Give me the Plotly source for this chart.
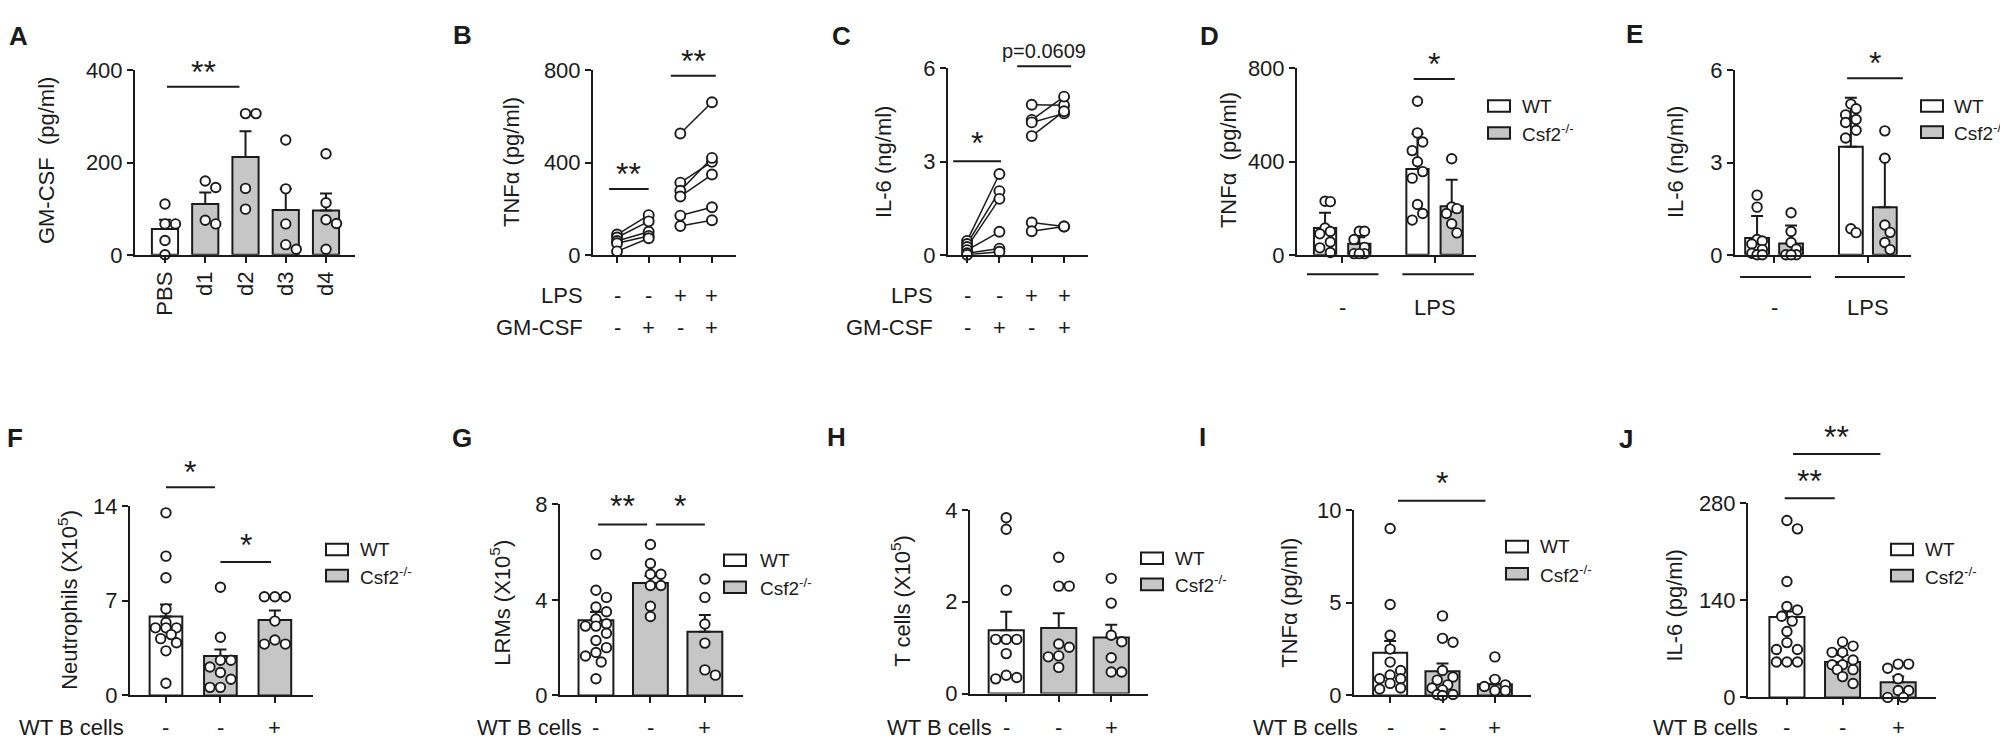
import plotly.graph_objects as go

W, H = 2008, 743
FONT = "Liberation Sans, Arial, Helvetica, sans-serif"
INK = "#1b1b1b"
GRAY = "#c6c6c6"
WHITE = "#ffffff"

# ---------------- data ----------------
# A: GM-CSF after PBS / days
a_labels = ["PBS", "d1", "d2", "d3", "d4"]
a_mean = [56, 110, 212, 97, 96]
a_err_top = [76, 135, 268, 143, 133]
a_points = [[110, 67, 67, 31, 0], [160, 146, 75, 67], [306, 306, 144, 99],
            [249, 143, 67, 22, 12], [219, 113, 76, 68, 12]]

# B: TNFa paired (LPS -/+ , GM-CSF -/+)
row_lps = ["-", "-", "+", "+"]
row_gmcsf = ["-", "+", "-", "+"]
b_ctrl_minus = [88, 75, 60, 50, 15]
b_ctrl_plus = [172, 145, 100, 82, 72]
b_lps_minus = [526, 313, 278, 253, 170, 125]
b_lps_plus = [661, 403, 420, 348, 206, 150]

# C: IL-6 paired
c_ctrl_minus = [0.45, 0.35, 0.25, 0.15, 0.05, 0.0]
c_ctrl_plus = [2.6, 2.05, 1.8, 0.74, 0.2, 0.1]
c_lps_minus = [4.83, 4.34, 4.26, 3.82, 1.04, 0.76]
c_lps_plus = [4.81, 5.09, 4.55, 4.62, 0.91, 0.91]

# D: TNFa WT vs Csf2-/- , - / LPS
d_mean = [115, 48, 368, 208]
d_err_top = [180, 75, 519, 322]
d_points = [[230, 228, 115, 100, 90, 55, 30, 10], [101, 101, 66, 32, 5, 5, 5],
            [659, 523, 484, 447, 399, 357, 329, 216, 177, 149],
            [412, 205, 198, 177, 133, 94]]

# E: IL-6 WT vs Csf2-/- , - / LPS
e_mean = [0.55, 0.37, 3.51, 1.55]
e_err_top = [1.26, 0.95, 5.11, 3.12]
e_points = [[1.94, 1.55, 0.5, 0.45, 0.35, 0.17, 0.05, 0.0, 0.0],
            [1.37, 0.76, 0.4, 0.19, 0.0, 0.0, 0.0],
            [4.9, 4.75, 4.55, 4.4, 4.3, 4.05, 3.8, 0.85, 0.72],
            [4.03, 3.14, 0.97, 0.73, 0.4, 0.17]]

b_cells = ["-", "-", "+"]
# F: Neutrophils
f_mean = [5.84, 2.92, 5.58]
f_err_top = [6.72, 3.39, 6.29]
f_points = [[13.5, 10.3, 8.7, 6.4, 5.4, 5.0, 5.0, 5.0, 4.5, 4.2, 3.9, 3.3, 0.9],
            [8.0, 4.3, 2.6, 2.6, 2.1, 1.7, 1.2, 0.6, 0.6],
            [7.3, 7.3, 7.3, 5.5, 4.1, 3.8, 3.8]]
# G: LRMs
g_mean = [3.15, 4.7, 2.66]
g_err_top = [3.49, 5.0, 3.36]
g_points = [[5.9, 4.4, 4.1, 3.7, 3.5, 3.2, 3.0, 2.9, 2.9, 2.6, 2.3, 2.0, 1.8, 1.65, 1.4, 0.7],
            [6.31, 5.52, 5.07, 5.07, 4.6, 4.6, 3.73, 3.3],
            [4.87, 4.1, 2.99, 2.19, 1.07, 0.85]]
# H: T cells
h_mean = [1.38, 1.43, 1.22]
h_err_top = [1.78, 1.75, 1.5]
h_points = [[3.83, 3.58, 2.25, 1.18, 1.18, 1.18, 0.87, 0.4, 0.35, 0.32],
            [2.97, 2.34, 2.34, 1.08, 1.01, 0.82, 0.8, 0.57],
            [2.51, 1.97, 1.27, 1.13, 0.78, 0.47, 0.47]]
# I: TNFa
i_mean = [2.3, 1.3, 0.61]
i_err_top = [2.94, 1.73, 0.92]
i_points = [[9.0, 4.9, 3.25, 2.5, 1.8, 1.35, 1.1, 0.9, 0.9, 0.65, 0.4, 0.35],
            [4.29, 3.08, 2.87, 1.35, 1.0, 0.83, 0.57, 0.4, 0.3, 0.05, 0.05, 0.0],
            [2.08, 0.87, 0.57, 0.48, 0.26, 0.26]]
# J: IL-6
j_mean = [116, 51, 22]
j_err_top = [124, 61, 30]
j_points = [[255, 243, 167, 131, 126, 117, 110, 95, 79, 69, 69, 51, 51, 51],
            [80, 74, 65, 65, 54, 47, 47, 40, 40, 30, 20],
            [48, 48, 42, 27, 10, 10, 0, 0]]

# ---------------- layout geometry (pixels) ----------------
GEOM = {
    1: dict(box=(127, 347, 52, 243), xr=[-0.745, 4.72], ymax=400, yticks=[0, 200, 400], xpos=[0, 1, 2, 3, 4], barw=0.65),
    2: dict(box=(585, 728, 52, 243), xr=[-0.76, 3.76], ymax=800, yticks=[0, 400, 800], xpos=[0, 1, 2, 3]),
    3: dict(box=(940, 1080, 50, 243), xr=[-0.59, 3.74], ymax=6, yticks=[0, 3, 6], xpos=[0, 1, 2, 3]),
    4: dict(box=(1289, 1468, 50, 243), xr=[-0.82, 4.41], ymax=800, yticks=[0, 400, 800], xpos=[0, 1, 2.7, 3.7], barw=0.65, xticks=[0.5, 3.2]),
    5: dict(box=(1727, 1903, 52, 243), xr=[-0.65, 4.53], ymax=6, yticks=[0, 3, 6], xpos=[0, 1, 2.76, 3.76], barw=0.7, xticks=[0.5, 3.26]),
    6: dict(box=(122, 305, 503, 699), xr=[-0.66, 2.70], ymax=14, yticks=[0, 7, 14], xpos=[0, 1, 2], barw=0.6),
    7: dict(box=(552, 735, 501, 699), xr=[-0.66, 2.70], ymax=8, yticks=[0, 4, 8], xpos=[0, 1, 2], barw=0.64),
    8: dict(box=(962, 1140, 507, 697), xr=[-0.69, 2.70], ymax=4, yticks=[0, 2, 4], xpos=[0, 1, 2], barw=0.67),
    9: dict(box=(1346, 1523, 507, 699), xr=[-0.69, 2.69], ymax=10, yticks=[0, 5, 10], xpos=[0, 1, 2], barw=0.65),
    10: dict(box=(1740, 1928, 500, 701), xr=[-0.70, 2.68], ymax=280, yticks=[0, 140, 280], xpos=[0, 1, 2], barw=0.63),
}

fig = go.Figure()
axes = {}
shapes = []
annots = []


def sfx(n):
    return "" if n == 1 else str(n)


def fx(px):
    return px / W


def fy(py):
    return 1 - py / H


def setup(n):
    g = GEOM[n]
    left, right, top, bottom = g["box"]
    s = sfx(n)
    axes["xaxis" + s] = dict(domain=[fx(left), fx(right)], range=g["xr"], anchor="y" + s,
                             showline=True, linecolor=INK, linewidth=2, ticks="outside",
                             ticklen=6, tickwidth=2, tickcolor=INK,
                             tickmode="array", tickvals=g.get("xticks", g["xpos"]),
                             showticklabels=False, showgrid=False, zeroline=False, fixedrange=True)
    axes["yaxis" + s] = dict(domain=[fy(bottom), fy(top)], range=[0, g["ymax"]], anchor="x" + s,
                             showline=True, linecolor=INK, linewidth=2, ticks="outside",
                             ticklen=6, tickwidth=2, tickcolor=INK,
                             tickmode="array", tickvals=g["yticks"],
                             tickfont=dict(size=22, color=INK, family=FONT),
                             showgrid=False, zeroline=False, fixedrange=True)


def swarm(n, vals, halfwidth_px, d=10.5):
    g = GEOM[n]
    left, right, top, bottom = g["box"]
    ppx = (right - left) / (g["xr"][1] - g["xr"][0])
    ppv = (bottom - top) / g["ymax"]
    step = d / 2.0
    cands = [0.0]
    k = 1
    while k * step <= halfwidth_px + 1e-9:
        cands += [k * step, -k * step]
        k += 1
    order = sorted(range(len(vals)), key=lambda i: -vals[i])
    placed = []
    offs = [0.0] * len(vals)
    for i in order:
        y = vals[i] * ppv
        best, bestd = 0.0, -1
        for c in cands:
            md = min([((c - px) ** 2 + (y - py) ** 2) ** 0.5 for px, py in placed], default=1e9)
            if md >= d:
                best = c
                break
            if md > bestd:
                bestd, best = md, c
        placed.append((best, y))
        offs[i] = best / ppx
    return offs


def bar_panel(n, means, tops, pts, colors):
    g = GEOM[n]
    s = sfx(n)
    left, right, top, bottom = g["box"]
    ppx = (right - left) / (g["xr"][1] - g["xr"][0])
    fig.add_trace(go.Bar(x=g["xpos"], y=means, width=g["barw"],
                         marker=dict(color=colors, line=dict(color=INK, width=2)),
                         error_y=dict(type="data", symmetric=False,
                                      array=[t - m for t, m in zip(tops, means)],
                                      arrayminus=[0] * len(means), color=INK, thickness=2, width=6),
                         xaxis="x" + s, yaxis="y" + s, showlegend=False, hoverinfo="skip"))
    hw = g["barw"] * ppx / 2 - 2
    xs, ys = [], []
    for pos, vals in zip(g["xpos"], pts):
        offs = swarm(n, vals, hw)
        xs += [pos + o for o in offs]
        ys += vals
    fig.add_trace(go.Scatter(x=xs, y=ys, mode="markers", cliponaxis=False,
                             marker=dict(symbol="circle", size=9.5, color=WHITE, line=dict(color=INK, width=1.9)),
                             xaxis="x" + s, yaxis="y" + s, showlegend=False, hoverinfo="skip"))


def paired(n, groups):
    g = GEOM[n]
    s = sfx(n)
    xs, ys = [], []
    for (i0, i1, before, after) in groups:
        for a, b in zip(before, after):
            xs += [g["xpos"][i0], g["xpos"][i1], None]
            ys += [a, b, None]
    fig.add_trace(go.Scatter(x=xs, y=ys, mode="lines+markers", cliponaxis=False,
                             line=dict(color=INK, width=1.5),
                             marker=dict(symbol="circle", size=10, color=WHITE, line=dict(color=INK, width=1.9)),
                             xaxis="x" + s, yaxis="y" + s, showlegend=False, hoverinfo="skip"))


def bracket(n, x0, x1, yv, text, size=32, shift=15):
    g = GEOM[n]
    s = sfx(n)
    xr = g["xr"]
    xd0 = (x0 - xr[0]) / (xr[1] - xr[0])
    xd1 = (x1 - xr[0]) / (xr[1] - xr[0])
    yd = yv / g["ymax"]
    shapes.append(dict(type="line", xref="x" + s + " domain", yref="y" + s + " domain",
                       x0=xd0, x1=xd1, y0=yd, y1=yd, line=dict(color=INK, width=2)))
    annots.append(dict(x=(xd0 + xd1) / 2, y=yd, xref="x" + s + " domain", yref="y" + s + " domain", text=text,
                       showarrow=False, xanchor="center", yanchor="middle", yshift=shift,
                       font=dict(size=size, color=INK, family=FONT)))


def text(xp, yp, t, size=22, xanchor="center", angle=0, bold=False):
    annots.append(dict(x=fx(xp), y=fy(yp), xref="paper", yref="paper", text=("<b>%s</b>" % t) if bold else t,
                       showarrow=False, xanchor=xanchor, yanchor="middle", textangle=angle,
                       font=dict(size=size, color=INK, family=FONT)))


def data_text(n, xv, yp, t, size=22):
    annots.append(dict(x=xv, y=fy(yp), xref="x" + sfx(n), yref="paper", text=t, showarrow=False,
                       xanchor="center", yanchor="middle", font=dict(size=size, color=INK, family=FONT)))


def legend(box_x0, yw, yk, tx):
    for yy, col in ((yw, WHITE), (yk, GRAY)):
        shapes.append(dict(type="rect", xref="paper", yref="paper", x0=fx(box_x0), x1=fx(box_x0 + 22),
                           y0=fy(yy + 6), y1=fy(yy - 6), fillcolor=col, line=dict(color=INK, width=2)))
    text(tx, yw, "WT", size=19, xanchor="left")
    text(tx, yk, "Csf2<sup>-/-</sup>", size=19, xanchor="left")


for n in GEOM:
    setup(n)

# ---- A ----
bar_panel(1, a_mean, a_err_top, a_points, [WHITE, GRAY, GRAY, GRAY, GRAY])
axes["xaxis"].update(showticklabels=True, ticktext=a_labels, tickangle=-90,
                     tickfont=dict(size=22, color=INK, family=FONT))
bracket(1, 0.05, 1.85, 364, "**")
text(38, 146, "GM-CSF  (pg/ml)", angle=-90)
text(10, 17, "A", size=26, bold=True)

# ---- B ----
paired(2, [(0, 1, b_ctrl_minus, b_ctrl_plus), (2, 3, b_lps_minus, b_lps_plus)])
bracket(2, -0.25, 1.0, 285, "**")
bracket(2, 1.7, 3.12, 776, "**")
text(503, 147, "TNFα (pg/ml)", angle=-90)
text(454, 16, "B", size=26, bold=True)
text(577, 285, "LPS", xanchor="right")
text(577, 318, "GM-CSF", xanchor="right")
for xv, l1, l2 in zip(GEOM[2]["xpos"], row_lps, row_gmcsf):
    data_text(2, xv, 285, l1)
    data_text(2, xv, 318, l2)

# ---- C ----
paired(3, [(0, 1, c_ctrl_minus, c_ctrl_plus), (2, 3, c_lps_minus, c_lps_plus)])
bracket(3, -0.43, 1.05, 3.01, "*", shift=18)
bracket(3, 1.55, 3.22, 6.07, "p=0.0609", size=20, shift=15)
text(875, 147, "IL-6 (ng/ml)", angle=-90)
text(833, 17, "C", size=26, bold=True)
text(927, 285, "LPS", xanchor="right")
text(927, 318, "GM-CSF", xanchor="right")
for xv, l1, l2 in zip(GEOM[3]["xpos"], row_lps, row_gmcsf):
    data_text(3, xv, 285, l1)
    data_text(3, xv, 318, l2)

# ---- D ----
bar_panel(4, d_mean, d_err_top, d_points, [WHITE, GRAY, WHITE, GRAY])
bracket(4, 2.59, 3.79, 754, "*")
text(1220, 145, "TNFα  (pg/ml)", angle=-90)
text(1201, 17, "D", size=26, bold=True)
legend(1480, 89, 117, 1512)

# ---- E ----
bar_panel(5, e_mean, e_err_top, e_points, [WHITE, GRAY, WHITE, GRAY])
bracket(5, 2.65, 4.29, 5.74, "*")
text(1667, 147, "IL-6 (ng/ml)", angle=-90)
text(1626, 15, "E", size=26, bold=True)
legend(1913, 89, 116, 1944)

# group underlines + labels for D and E
for n, ypx, spans in ((4, 263, [(-0.53, 1.56), (2.26, 4.35)]), (5, 266, [(-0.5, 1.59), (2.29, 4.35)])):
    g = GEOM[n]
    s = sfx(n)
    xr = g["xr"]
    left, right, top, bottom = g["box"]
    yd = -(ypx - bottom) / (bottom - top)
    for a, b in spans:
        shapes.append(dict(type="line", xref="x" + s + " domain", yref="y" + s + " domain",
                           x0=(a - xr[0]) / (xr[1] - xr[0]), x1=(b - xr[0]) / (xr[1] - xr[0]),
                           y0=yd, y1=yd, line=dict(color=INK, width=2)))
    data_text(n, g["xticks"][0], 298, "-")
    data_text(n, g["xticks"][1], 298, "LPS")

# ---- F-J ----
bottom_cols = [WHITE, GRAY, GRAY]
bar_panel(6, f_mean, f_err_top, f_points, bottom_cols)
bracket(6, 0.0, 0.9, 15.4, "*")
bracket(6, 1.0, 1.93, 9.87, "*", shift=17)
text(60, 600, "Neutrophils (X10<sup>5</sup>)", angle=-90)
text(7, 433, "F", size=26, bold=True)
legend(318, 548, 575, 350)
text(118, 732, "WT B cells", xanchor="right")

bar_panel(7, g_mean, g_err_top, g_points, bottom_cols)
bracket(7, 0.04, 0.94, 7.15, "**", shift=18)
bracket(7, 1.10, 2.0, 7.15, "*", shift=18)
text(492, 603, "LRMs (X10<sup>5</sup>)", angle=-90)
text(454, 433, "G", size=26, bold=True)
legend(716, 559, 587, 750)
text(576, 732, "WT B cells", xanchor="right")

bar_panel(8, h_mean, h_err_top, h_points, bottom_cols)
text(893, 601, "T cells (X10<sup>5</sup>)", angle=-90)
text(828, 432, "H", size=26, bold=True)
legend(1133, 557, 584, 1165)
text(986, 732, "WT B cells", xanchor="right")

bar_panel(9, i_mean, i_err_top, i_points, bottom_cols)
bracket(9, 0.15, 1.82, 10.5, "*", shift=18)
text(1282, 603, "TNFα (pg/ml)", angle=-90)
text(1194, 432, "I", size=26, bold=True)
legend(1498, 545, 573, 1530)
text(1352, 732, "WT B cells", xanchor="right")

bar_panel(10, j_mean, j_err_top, j_points, bottom_cols)
bracket(10, 0.11, 1.68, 351, "**", shift=17)
bracket(10, -0.04, 0.86, 287, "**", shift=17)
text(1667, 606, "IL-6 (pg/ml)", angle=-90)
text(1618, 434, "J", size=26, bold=True)
legend(1883, 548, 575, 1915)
text(1752, 732, "WT B cells", xanchor="right")

for n in (6, 7, 8, 9, 10):
    for xv, l in zip(GEOM[n]["xpos"], b_cells):
        data_text(n, xv, 732, l)

fig.update_layout(width=W, height=H, margin=dict(l=0, r=0, t=0, b=0),
                  paper_bgcolor="white", plot_bgcolor="white", showlegend=False,
                  barmode="overlay", font=dict(family=FONT, color=INK),
                  shapes=shapes, annotations=annots, **axes)
fig.write_html("out.html")
